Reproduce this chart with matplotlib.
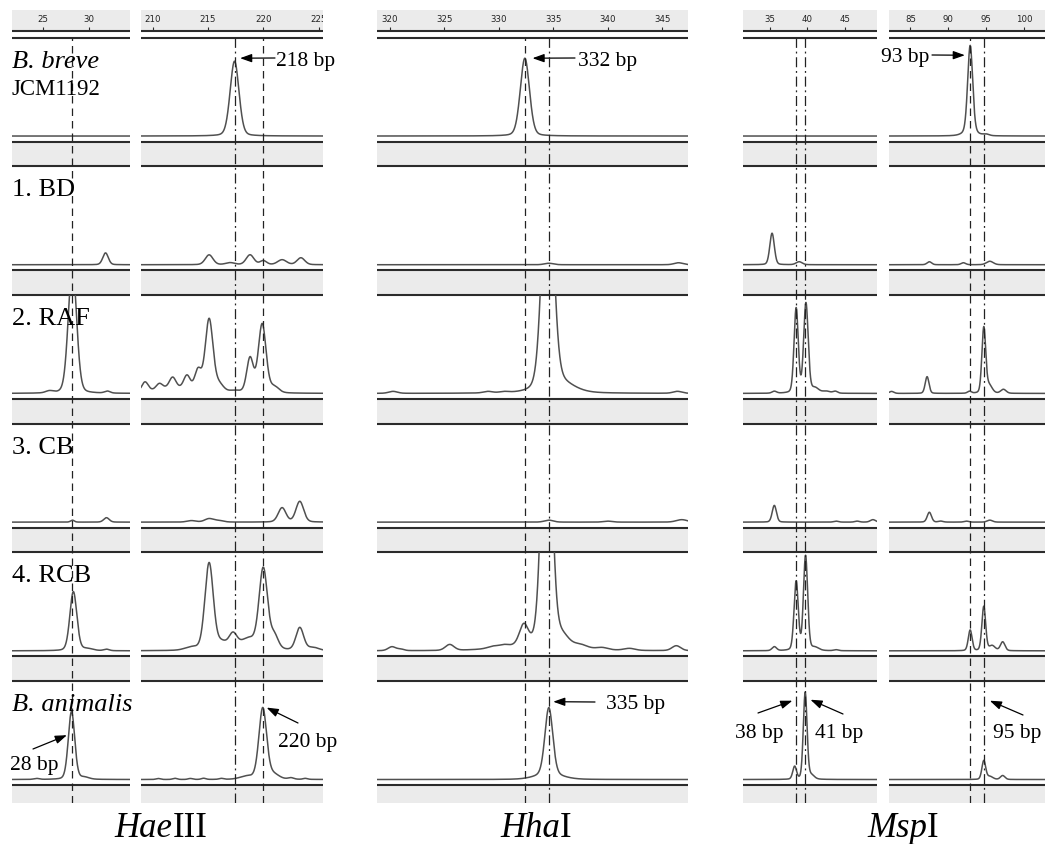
import numpy as np
import matplotlib
matplotlib.use("Agg")
import matplotlib.pyplot as plt

plt.rcParams['font.family'] = ['Liberation Serif', 'DejaVu Serif']

W, H = 1045, 844

# lanes (rows)
lanes = ['B. breve', '1. BD', '2. RAF', '3. CB', '4. RCB', 'B. animalis']
lane_italic = [True, False, False, False, False, True]

# peaks: (size in bp, height as fraction of lane, width in bp)
hae_short = [
    [],
    [(31.8, 0.12, 0.3)],
    [(25.7, 0.02, 0.4), (28.2, 1.3, 0.45), (32.0, 0.02, 0.3)],
    [(28.2, 0.02, 0.2), (31.9, 0.045, 0.3)],
    [(28.3, 0.6, 0.38), (29.8, 0.02, 0.6), (31.9, 0.015, 0.3)],
    [(24.3, 0.01, 0.3), (28.1, 0.69, 0.35), (29.5, 0.02, 0.5)],
]
hae_long = [
    [(217.4, 0.76, 0.4)],
    [(215.1, 0.1, 0.35), (217.0, 0.02, 0.4), (218.8, 0.1, 0.35), (220.0, 0.04, 0.3),
     (221.7, 0.05, 0.4), (223.4, 0.07, 0.35)],
    [(211.8, 0.05, 1.6), (209.3, 0.1, 0.3), (210.6, 0.06, 0.3), (211.8, 0.11, 0.3),
     (213.1, 0.14, 0.3), (214.1, 0.21, 0.3), (215.1, 0.74, 0.35), (216.0, 0.08, 0.4),
     (217.4, 0.02, 0.5), (218.8, 0.35, 0.3), (219.9, 0.7, 0.35), (221.0, 0.06, 0.4)],
    [(213.5, 0.015, 0.4), (215.1, 0.035, 0.4), (216.0, 0.015, 0.4),
     (221.7, 0.145, 0.35), (223.3, 0.21, 0.35)],
    [(218.3, 0.07, 1.6), (213.5, 0.03, 0.6), (215.1, 0.88, 0.38), (216.2, 0.05, 0.4),
     (217.25, 0.12, 0.35), (218.7, 0.05, 0.5), (220.0, 0.8, 0.38), (221.0, 0.13, 0.35),
     (223.3, 0.23, 0.35), (224.5, 0.03, 0.5)],
    [(210.5, 0.01, 0.2), (212.0, 0.012, 0.2), (213.4, 0.01, 0.2), (214.6, 0.012, 0.2),
     (216.2, 0.01, 0.2), (218.5, 0.03, 0.6), (219.95, 0.72, 0.35), (220.9, 0.05, 0.5),
     (222.5, 0.015, 0.25), (223.8, 0.01, 0.2)],
]
hha = [
    [(332.4, 0.79, 0.42)],
    [(334.6, 0.015, 0.4), (346.5, 0.02, 0.4)],
    [(320.3, 0.02, 0.4), (329.0, 0.015, 0.4), (330.5, 0.01, 0.4), (334.5, 2.5, 0.5),
     (335.5, 0.1, 1.3), (346.4, 0.02, 0.4)],
    [(334.6, 0.02, 0.4), (340.0, 0.01, 0.4), (346.8, 0.025, 0.5)],
    [(333.5, 0.05, 3.0), (320.2, 0.04, 0.35), (321.0, 0.015, 0.3), (325.5, 0.06, 0.4),
     (329.5, 0.02, 0.5), (330.5, 0.02, 0.4), (332.3, 0.2, 0.4), (334.4, 3.0, 0.45),
     (335.8, 0.1, 0.6), (337.5, 0.03, 0.6), (339.5, 0.02, 0.5), (342.0, 0.02, 0.5),
     (346.3, 0.05, 0.4)],
    [(334.6, 0.68, 0.36), (334.6, 0.05, 1.2)],
]
msp_short = [
    [],
    [(35.3, 0.32, 0.3), (38.9, 0.03, 0.4)],
    [(35.6, 0.02, 0.3), (38.5, 0.86, 0.28), (39.8, 0.91, 0.3), (41.0, 0.05, 0.5),
     (42.5, 0.02, 0.5), (43.7, 0.02, 0.3)],
    [(35.6, 0.17, 0.28), (43.8, 0.01, 0.3), (46.6, 0.01, 0.3), (48.7, 0.025, 0.35)],
    [(35.6, 0.04, 0.3), (38.5, 0.7, 0.28), (39.75, 0.96, 0.28), (41.0, 0.03, 0.5),
     (43.8, 0.01, 0.3)],
    [(38.3, 0.13, 0.25), (39.7, 0.88, 0.25), (40.5, 0.04, 0.4)],
]
msp_long = [
    [(92.9, 0.88, 0.33), (92.9, 0.04, 0.8), (95.0, 0.015, 0.4)],
    [(87.5, 0.03, 0.3), (92.0, 0.02, 0.3), (95.5, 0.035, 0.45)],
    [(82.5, 0.02, 0.3), (87.2, 0.17, 0.25), (92.8, 0.02, 0.25), (94.7, 0.66, 0.25),
     (95.4, 0.08, 0.4), (97.3, 0.04, 0.35)],
    [(87.5, 0.1, 0.28), (89.0, 0.01, 0.3), (92.4, 0.01, 0.3), (95.5, 0.02, 0.35)],
    [(92.9, 0.21, 0.25), (94.7, 0.45, 0.25), (95.8, 0.05, 0.4), (97.2, 0.09, 0.3)],
    [(94.7, 0.19, 0.25), (95.5, 0.03, 0.4), (97.2, 0.04, 0.3)],
]

# reference fragment sizes (vertical guide lines)
hae_short_marks = [28.2]
hae_long_marks = [217.4, 220.0]
hha_marks = [332.4, 334.6]
msp_short_marks = [38.5, 39.7]
msp_long_marks = [92.9, 94.7]

# size labels: text, panel column, lane, arrow tip (bp, height)
bp_labels = ['218 bp', '332 bp', '93 bp', '28 bp', '220 bp', '335 bp', '38 bp', '41 bp', '95 bp']
bp_col = [1, 2, 4, 0, 1, 2, 3, 3, 4]
bp_lane = [0, 0, 0, 5, 5, 5, 5, 5, 5]
bp_tip = [(217.9, 0.79), (333.1, 0.79), (92.2, 0.82), (27.6, 0.45), (220.3, 0.73),
          (335.0, 0.79), (38.0, 0.80), (40.4, 0.81), (95.5, 0.80)]

enzymes = [('Hae', 'III'), ('Hha', 'I'), ('Msp', 'I')]

# ---- layout (pixels)
dash = (0, (6, 4))
dashdot = (0, (8, 3, 1.5, 3))
cols = [
    dict(peaks=hae_short, x0=12, x1=130, xlim=(21.63, 34.46), ticks=[25, 30],
         marks=hae_short_marks, ls=[dash]),
    dict(peaks=hae_long, x0=141, x1=323, xlim=(208.94, 225.4), ticks=[210, 215, 220, 225],
         marks=hae_long_marks, ls=[dashdot, dash]),
    dict(peaks=hha, x0=376.7, x1=688.3, xlim=(318.8, 347.4),
         ticks=[320, 325, 330, 335, 340, 345], marks=hha_marks, ls=[dash, dashdot]),
    dict(peaks=msp_short, x0=742.7, x1=876.7, xlim=(31.4, 49.2), ticks=[35, 40, 45],
         marks=msp_short_marks, ls=[dashdot, dashdot]),
    dict(peaks=msp_long, x0=889.3, x1=1045, xlim=(82.2, 102.8), ticks=[85, 90, 95, 100],
         marks=msp_long_marks, ls=[dash, dashdot]),
]
row_top = [37.5 + 128.7 * r for r in range(len(lanes))]
bottom = 803

gray = '#ebebeb'
dark = '#2b2b2b'
trace_c = '#505050'


def add_ax(x0, y0, x1, y1, z=1):
    ax = fig.add_axes([x0 / W, 1 - y1 / H, (x1 - x0) / W, (y1 - y0) / H])
    ax.set_zorder(z)
    ax.patch.set_visible(False)
    ax.axis('off')
    return ax


def peak_shape(x, mu, h, s):
    # gaussian core with a little lorentzian tail, like the electropherogram peaks
    g = np.exp(-0.5 * ((x - mu) / s) ** 2)
    gam = 1.1774 * s
    lo = 1.0 / (1.0 + ((x - mu) / gam) ** 2)
    return h * (0.82 * g + 0.18 * lo)


fig = plt.figure(figsize=(W / 100, H / 100), dpi=100)

trace_axes = [[None] * len(cols) for _ in lanes]
for c, col in enumerate(cols):
    # frame: header strip, separating bands
    fr = add_ax(col['x0'], 10, col['x1'], bottom, z=0)
    fr.set_xlim(0, 1)
    fr.set_ylim(bottom, 10)
    fr.axhspan(10, 31, color=gray, lw=0)
    fr.axhline(31, color=dark, lw=1.5)
    fr.axhline(37.5, color=dark, lw=1.5)
    for r, T in enumerate(row_top):
        fr.axhspan(T + 104, min(T + 128.7, bottom), color=gray, lw=0)
        fr.axhline(T + 104, color=dark, lw=1.5)
        if r < len(lanes) - 1:
            fr.axhline(T + 128.7, color=dark, lw=1.5)

    # header ticks
    hd = add_ax(col['x0'], 10, col['x1'], 31, z=1)
    hd.set_xlim(*col['xlim'])
    hd.set_ylim(0, 1)
    hd.vlines(col['ticks'], 0, 0.2, color=dark, lw=0.8)
    for t in col['ticks']:
        hd.text(t, 0.55, str(t), ha='center', va='center', fontsize=6.2,
                family='DejaVu Sans', color='#222222', clip_on=True)

    # traces
    x = np.linspace(col['xlim'][0], col['xlim'][1], 1500)
    for r, T in enumerate(row_top):
        ax = add_ax(col['x0'], T, col['x1'], T + 100, z=1)
        ax.set_xlim(*col['xlim'])
        ax.set_ylim(-0.015, 1.0)
        y = np.zeros_like(x)
        for mu, h, s in col['peaks'][r]:
            y += peak_shape(x, mu, h, s)
        ax.plot(x, y, color=trace_c, lw=1.1)
        trace_axes[r][c] = ax

    # guide lines
    ov = add_ax(col['x0'], 37.5, col['x1'], bottom, z=2)
    ov.set_xlim(*col['xlim'])
    for m, ls in zip(col['marks'], col['ls']):
        ov.axvline(m, color='#222222', lw=0.9, linestyle=ls)

# lane labels
for r, (name, it) in enumerate(zip(lanes, lane_italic)):
    fig.text(12 / W, 1 - (row_top[r] + 30) / H, name, fontsize=19,
             style='italic' if it else 'normal', va='baseline', zorder=5)
fig.text(12 / W, 1 - (row_top[0] + 57.5) / H, 'JCM1192', fontsize=16.5, va='baseline')

# size labels with arrows
text_pos = [(276, 66, 'left'), (578, 66, 'left'), (929, 62, 'right'), (10, 770, 'left'),
            (278, 747, 'left'), (606, 709, 'left'), (735, 738, 'left'), (815, 738, 'left'),
            (993, 738, 'left')]
arrow_start = [(275, 58), (575, 58), (932, 55), (33, 749), (298, 723), (595, 702),
               (758, 713), (843, 714), (1023, 715)]
for lab, c, r, tip, (tx, ty, ha), (sx, sy) in zip(bp_labels, bp_col, bp_lane, bp_tip,
                                                   text_pos, arrow_start):
    fig.text(tx / W, 1 - ty / H, lab, fontsize=15.5, ha=ha, va='baseline', zorder=6)
    trace_axes[r][c].annotate(
        '', xy=tip, xycoords='data', xytext=(sx, H - sy), textcoords='figure pixels',
        annotation_clip=False,
        arrowprops=dict(arrowstyle='-|>,head_length=0.7,head_width=0.25', color='black',
                        lw=0.9, mutation_scale=10, shrinkA=0, shrinkB=0))

# enzyme names
renderer = fig.canvas.get_renderer()
for (ital, rom), cx in zip(enzymes, [161, 536, 903]):
    t1 = fig.text(0, 1 - 837 / H, ital, style='italic', fontsize=25, va='baseline')
    t2 = fig.text(0, 1 - 837 / H, rom, fontsize=25, va='baseline')
    w1 = t1.get_window_extent(renderer).width
    w2 = t2.get_window_extent(renderer).width
    x0 = cx - (w1 + w2) / 2
    t1.set_x(x0 / W)
    t2.set_x((x0 + w1) / W)

fig.savefig('out.png', dpi=100)
